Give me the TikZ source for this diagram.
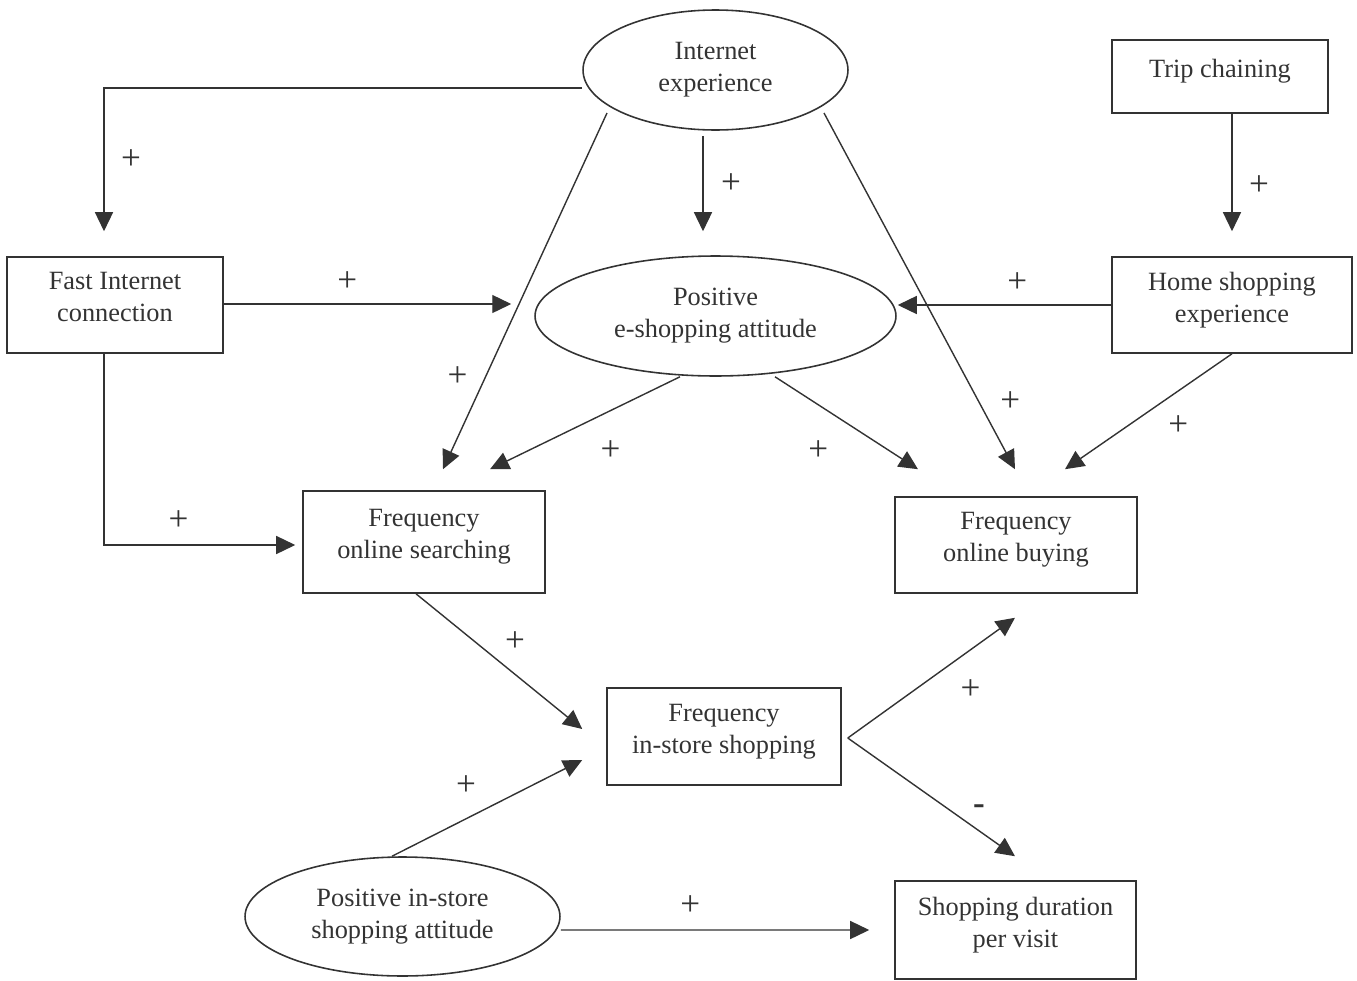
\documentclass[tikz,border=0pt]{standalone}
\usepackage{fontspec}
\setmainfont{Liberation Serif}
\usetikzlibrary{positioning, shapes.geometric, arrows.meta, calc}
\definecolor{ink}{HTML}{333333}
\tikzset{
    box/.style={draw=ink, line width=0.9pt, text=ink, align=center,
        inner sep=0pt, text depth=9pt},
    oval/.style={ellipse, draw=ink, line width=0.9pt, text=ink,
        align=center, inner sep=0pt},
    arr/.style={draw=ink, line width=0.8pt,
        -{Triangle[length=0.38cm,width=0.36cm]}},
    lbl/.style={text=ink, inner sep=0pt, font=\fontsize{20pt}{24pt}\selectfont}
}

\begin{document}
\begin{tikzpicture}[x=0.02cm, y=-0.02cm, font=\fontsize{15pt}{18.2pt}\selectfont]
    \useasboundingbox (0,0) rectangle (1357,981);

    \node[
        oval,
        minimum width=5.3cm,
        minimum height=2.4cm] (inet) at (715.5,70) {Internet\\experience};
    \node[
        box,
        minimum width=4.32cm,
        minimum height=1.46cm] (trip) at (1220,76.5) {Trip chaining};
    \node[
        box,
        minimum width=4.32cm,
        minimum height=1.92cm] (fast) at (115,305) {Fast Internet\\connection};
    \node[
        oval,
        minimum width=7.22cm,
        minimum height=2.4cm] (eshop) at (715.5,316) {Positive\\e-shopping attitude};
    \node[
        box,
        minimum width=4.8cm,
        minimum height=1.92cm] (home) at (1232,305) {Home shopping\\experience};
    \node[
        box,
        minimum width=4.84cm,
        minimum height=2.04cm] (search) at (424,542) {Frequency\\online searching};
    \node[
        box,
        minimum width=4.84cm,
        minimum height=1.92cm] (buy) at (1016,545) {Frequency\\online buying};
    \node[
        box,
        minimum width=4.68cm,
        minimum height=1.94cm] (instore) at (724,736.5) {Frequency\\in-store shopping};
    \node[
        oval,
        minimum width=6.3cm,
        minimum height=2.38cm] (attit) at (402.5,916.5) {Positive in-store\\shopping attitude};
    \node[
        box,
        minimum width=4.82cm,
        minimum height=1.96cm] (dur) at (1015.5,930) {Shopping duration\\per visit};

    % from internet experience
    \draw[arr] ($(inet.west)+(0,18)$) -| ($(fast.north)+(-11,-25)$)
    node[lbl,pos=0.75,xshift=0.54cm]{+};
    \draw[arr] ($(inet.center)+(-108.5,43)$) -- ($(search.north)+(19,-21)$)
    node[lbl,pos=0.74,xshift=-0.56cm]{+};
    \draw[arr] ($(inet.south)+(-12.5,5)$) -- ($(eshop.north)+(-12.5,-24)$)
    node[lbl,midway,xshift=0.56cm]{+};
    \draw[arr] ($(inet.center)+(108.5,43)$) -- ($(buy.north)+(-1,-27)$)
    node[lbl,pos=0.81,xshift=0.63cm]{+};

    % trip chaining, fast internet, home shopping
    \draw[arr] ($(trip.south)+(12,0)$) -- ($(home.north)+(0,-25)$)
    node[lbl,pos=0.61,xshift=0.54cm]{+};
    \draw[arr] ($(fast.east)+(0,-1)$) -- ($(eshop.west)+(-23,-12)$)
    node[lbl,pos=0.43,yshift=0.44cm]{+};
    \draw[arr] (home.west) -- ($(eshop.east)+(1,-11)$)
    node[lbl,pos=0.44,yshift=0.44cm]{+};
    \draw[arr] ($(fast.south)+(-11,0)$) |- ($(search.west)+(-7,3)$)
    node[lbl,pos=0.695,yshift=0.48cm]{+};

    % attitude towards the frequencies
    \draw[arr] ($(eshop.south)+(-35.5,0)$) -- ($(search.north)+(66,-21)$)
    node[lbl,pos=0.45,xshift=0.32cm,yshift=-0.64cm]{+};
    \draw[arr] ($(eshop.south)+(59.5,0)$) -- ($(buy.north)+(-98,-27)$)
    node[lbl,pos=0.45,xshift=-0.42cm,yshift=-0.64cm]{+};
    \draw[arr] (home.south) -- ($(buy.north)+(49,-27)$)
    node[lbl,pos=0.42,xshift=0.33cm,yshift=-0.47cm]{+};

    % in-store shopping
    \draw[arr] ($(search.south)+(-8,0)$) -- ($(instore.west)+(-24,-7.5)$)
    node[lbl,pos=0.5,xshift=0.32cm,yshift=0.39cm]{+};
    \draw[arr] ($(attit.north)+(-10.5,0)$) -- ($(instore.west)+(-24,23.5)$)
    node[lbl,pos=0.46,xshift=-0.27cm,yshift=0.52cm]{+};
    \draw[arr] ($(instore.east)+(6,1.5)$) -- ($(buy.south)+(-1,24)$)
    node[lbl,pos=0.62,xshift=0.38cm,yshift=-0.53cm]{+};
    \draw[arr] ($(instore.east)+(6,1.5)$) -- ($(dur.north)+(-0.5,-24)$)
    node[lbl,pos=0.725,xshift=0.2cm,yshift=0.29cm]{\textbf{-}};
    \draw[arr] ($(attit.east)+(0,13.5)$) -- ($(dur.west)+(-25,0)$)
    node[lbl,pos=0.42,yshift=0.48cm]{+};
\end{tikzpicture}
\end{document}
